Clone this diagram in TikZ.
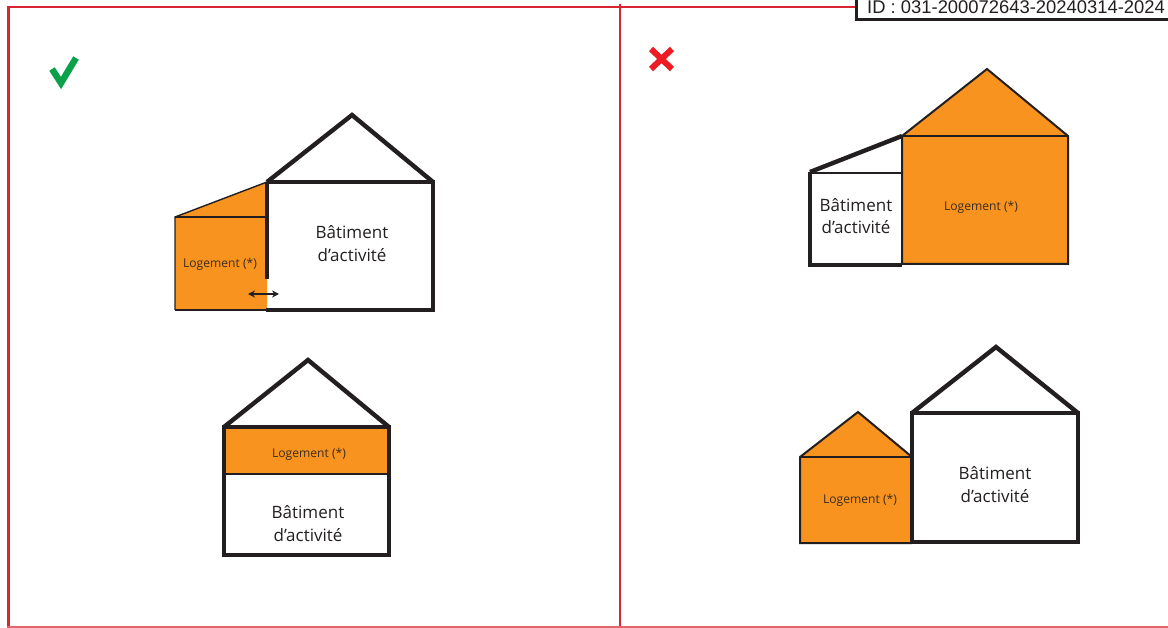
\documentclass[tikz,border=0pt]{standalone}
\usepackage{fontspec}
\setmainfont{Open Sans}
\newfontfamily\idfont{Liberation Sans}
\usetikzlibrary{arrows.meta}
\definecolor{frameRed}{HTML}{D9252F}
\definecolor{houseOrange}{HTML}{F7931E}
\definecolor{okGreen}{HTML}{0BA14B}
\definecolor{koRed}{HTML}{ED1C24}
\definecolor{ink}{HTML}{231F20}
\tikzset{
  x=1pt,y=-1pt,
  framerule/.style={draw=frameRed,line width=2pt},
  heavy/.style={draw=ink,line width=4.4pt,line join=miter},
  fine/.style={draw=ink,line width=1.4pt},
  orange/.style={fill=houseOrange},
  bigtext/.style={text=ink,font=\fontsize{17pt}{23pt}\selectfont,align=center,inner sep=0pt,anchor=base},
  smalltext/.style={text=ink!88!houseOrange,font=\fontsize{12.1pt}{14pt}\selectfont,inner sep=0pt,anchor=base},
}
\begin{document}
\begin{tikzpicture}
\useasboundingbox (0,0) rectangle (1168,628);
\fill[white] (0,0) rectangle (1168,628);
% frames
\draw[framerule] (856,7) -- (7,7);
\draw[framerule,line width=3pt] (8,6) -- (8,628);
\draw[framerule] (620,4) -- (620,628);
\draw[framerule,line width=1.4pt,draw=frameRed!70!white] (7,627) -- (1168,627);
% ID stamp
\fill[white] (856,-2) rectangle (1170,20);
\draw[draw=ink,line width=3pt] (856,-2) -- (856,20) -- (1170,20);
\node[anchor=base west,inner sep=0pt,text=ink,font=\idfont\fontsize{18.4pt}{20pt}\selectfont] (stamp) at (867,14) {ID : 031-200072643-20240314-2024};
% marks
\draw[okGreen,line width=6.5pt,line join=miter] (52,69) -- (61,83) -- (76,58);
\draw[koRed,line width=6pt] (651,49) -- (672,69) (672,49) -- (651,69);

% top-left house
\fill[orange] (175,217) -- (267,182) -- (267,310) -- (175,310) -- cycle;
\draw[fine] (175,310) -- (175,217) -- (267,182);
\draw[fine] (175,217) -- (267,217);
\draw[fine,line width=1.8pt] (175,310) -- (267,310);
\draw[heavy] (266,310) -- (433,310) -- (433,182) -- (267,182);
\draw[heavy] (267,182) -- (267,279);
\draw[heavy] (267,182) -- (352,115) -- (433,182);
\node[bigtext] (b1) at (352,239) {Bâtiment};
\node[bigtext] (b1b) at (352,262) {d’activité};
\node[smalltext] (l1) at (220,268) {Logement (*)};
\coordinate (aL) at (248,294);
\coordinate (aR) at (279,294);
\draw[ink,line width=1.6pt,{Stealth[length=7pt,width=7pt]}-{Stealth[length=7pt,width=7pt]}] (aL) -- (aR);

% bottom-left house
\fill[orange] (224,427) rectangle (389,474);
\draw[fine] (224,474) -- (389,474);
\draw[heavy] (224,427) rectangle (389,555);
\draw[heavy] (224,427) -- (308,360) -- (389,427);
\node[smalltext] (l2) at (309,457) {Logement (*)};
\node[bigtext] (b2) at (308,518) {Bâtiment};
\node[bigtext] (b2b) at (308,541) {d’activité};

% top-right house
\fill[orange] (902,136) -- (987,69) -- (1068,136) -- (1068,264) -- (902,264) -- cycle;
\draw[fine,line width=2pt] (902,136) -- (987,69) -- (1068,136) -- (1068,264) -- (902,264) -- cycle;
\draw[fine,line width=2pt] (902,136) -- (1068,136);
\draw[heavy] (902,265) -- (810,265) -- (810,172);
\draw[fine,line width=2.6pt] (810,173) -- (902,173);
\draw[heavy] (810,172) -- (902,136);
\node[bigtext] (b3) at (856,212) {Bâtiment};
\node[bigtext] (b3b) at (856,234) {d’activité};
\node[smalltext] (l3) at (981,211) {Logement (*)};

% bottom-right house
\fill[orange] (800,457) -- (858,412) -- (912,457) -- (912,543) -- (800,543) -- cycle;
\draw[fine,line width=2pt] (912,457) -- (858,412) -- (800,457) -- (800,543) -- (912,543);
\draw[fine,line width=2pt] (800,457) -- (912,457);
\draw[heavy] (912,413) rectangle (1078,542);
\draw[heavy] (912,413) -- (996,347) -- (1078,413);
\node[bigtext] (b4) at (995,479) {Bâtiment};
\node[bigtext] (b4b) at (995,502) {d’activité};
\node[smalltext] (l4) at (860,503) {Logement (*)};
\end{tikzpicture}
\end{document}
